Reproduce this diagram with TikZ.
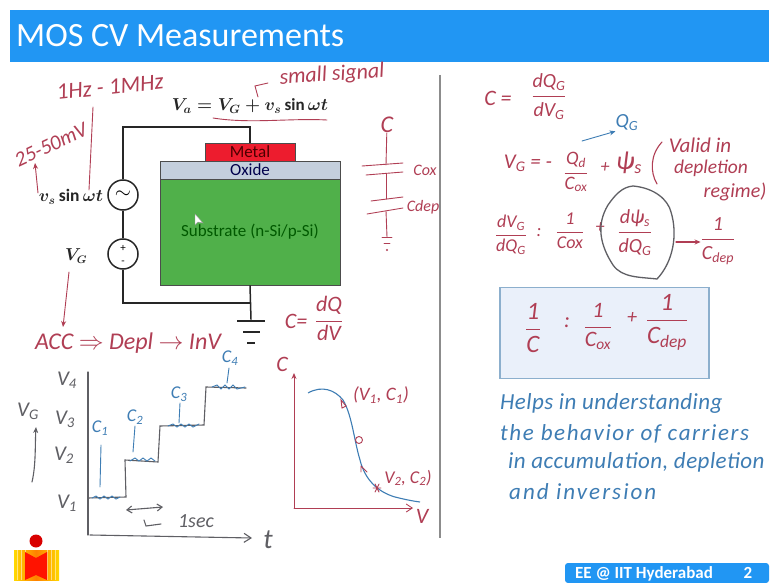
\documentclass[tikz,border=0pt]{standalone}
\usepackage{fontspec}
\usepackage{amsmath}
\setmainfont{Carlito}
\usetikzlibrary{arrows.meta}

\definecolor{barblue}{RGB}{33,150,243}
\definecolor{inkred}{RGB}{176,62,84}
\definecolor{inkblue}{RGB}{62,125,180}
\definecolor{inkgray}{RGB}{95,95,100}
\definecolor{metalred}{RGB}{237,28,46}
\definecolor{oxidegray}{RGB}{196,207,221}
\definecolor{subgreen}{RGB}{80,176,74}
\definecolor{boxfill}{RGB}{234,240,250}
\definecolor{boxedge}{RGB}{140,175,205}

\newcommand{\hfrac}[2]{$\genfrac{}{}{0.8pt}{0}{\hbox{\strut #1}}{\hbox{\strut #2}}$}
\newcommand{\hs}[1]{\textsubscript{#1}}
\newcommand{\pen}[1]{\itshape\fontsize{#1}{#1}\selectfont}

\tikzset{
	wire/.style={draw=black!85,line width=1.5pt},
	layer/.style={draw=black!70,line width=0.8pt,minimum height=18pt,inner sep=0pt,font=\fontsize{17}{17}\selectfont},
	source/.style={circle,draw=black!85,line width=1.5pt,minimum size=30pt,inner sep=0pt},
	redpen/.style={inkred,font=\pen{18},inner sep=0pt},
	bluepen/.style={inkblue,font=\pen{18},inner sep=0pt},
	graypen/.style={inkgray,font=\pen{21},inner sep=0pt},
	redline/.style={inkred,line width=0.9pt,line cap=round},
	blueline/.style={inkblue,line width=0.9pt,line cap=round},
	grayline/.style={inkgray,line width=1.1pt,line cap=round},
	tip/.style={-{Stealth[length=6pt,width=5pt]}}
}

\begin{document}
\begin{tikzpicture}[x=1pt,y=-1pt]
	\useasboundingbox (0,0) rectangle (774,583);
	\fill[white] (0,0) rectangle (774,583);

	% header and footer
	\fill[barblue] (10,10) rectangle (769,62);
	\node[white,anchor=west,inner sep=0pt,font=\fontsize{34}{34}\selectfont] (title) at (16,36) {MOS CV Measurements};
	\fill[barblue,rounded corners=3pt] (565,563) rectangle (769,583);
	\node[white,inner sep=0pt,font=\bfseries\fontsize{17}{17}\selectfont] (footer) at (644,574) {EE @ IIT Hyderabad};
	\node[white,inner sep=0pt,font=\bfseries\fontsize{17}{17}\selectfont] (pagenum) at (748,573) {2};
	\draw[black!45,line width=1.2pt] (440,75)--(440,538);

	% logo
	\shade[left color=yellow!70!orange,right color=orange] (14,550) rectangle (36,580);
	\shade[left color=orange,right color=yellow!70!orange] (36,550) rectangle (59,580);
	\foreach \xpos in {17,21,25,47,51,55}
		\draw[white,line width=0.4pt,opacity=0.5] (\xpos,550)--(\xpos,580);
	\fill[red!85!orange] (25,552)--(36,558)--(47,552)--(47,580)--(36,575)--(25,580)--cycle;
	\fill[red!85!black] (36,541) circle (6.5);

	% MOS stack
	\node[layer,fill=metalred,minimum width=90pt,text=black!70!red] (metal) at (250,152) {Metal};
	\node[layer,fill=oxidegray,minimum width=180pt,text=black!70!blue] (oxide) at (250,170) {Oxide};
	\node[layer,fill=subgreen,minimum width=180pt,minimum height=106pt,text=black!65!green] (substrate) at (250,232) {Substrate (n-Si/p-Si)};
	\fill[white,draw=black!40,line width=0.4pt] (195,214)--(195,225)--(198,222)--(203,223)--cycle;

	% sources and wires
	\node[source] (acsrc) at (123,195) {\fontsize{22}{22}\selectfont$\sim$};
	\node[source] (dcsrc) at (123,254) {};
	\node[inner sep=0pt,font=\fontsize{11}{11}\selectfont] (plus) at (123,248) {+};
	\node[inner sep=0pt,font=\fontsize{11}{11}\selectfont] (minus) at (123,263) {-};
	\coordinate (topjoin) at (250,127);
	\coordinate (botjoin) at (251,303);
	\node[fill=black!85,minimum width=28pt,minimum height=2.5pt,inner sep=0pt] (gnda) at (251,321) {};
	\node[fill=black!85,minimum width=17pt,minimum height=2.5pt,inner sep=0pt] (gndb) at (251,332) {};
	\node[fill=black!85,minimum width=8pt,minimum height=2.5pt,inner sep=0pt] (gndc) at (251,343) {};
	\draw[wire] (acsrc.north) |- (topjoin) -- (metal.north);
	\draw[wire] (acsrc.south) -- (dcsrc.north);
	\draw[wire] (dcsrc.south) |- (botjoin);
	\draw[wire] (substrate.south) -- (gnda.north);

	% printed labels
	\node[inner sep=0pt,black!85,font=\fontsize{17}{17}\selectfont] (vaeq) at (250,106) {$\boldsymbol{V_a = V_G + v_s \sin\omega t}$};
	\node[inner sep=0pt,black!85,font=\fontsize{17.5}{17.5}\selectfont] (vslabel) at (71,197) {$\boldsymbol{v_s \sin\omega t}$};
	\node[inner sep=0pt,black!85,font=\fontsize{16}{16}\selectfont] (vglabel) at (76,256) {$\boldsymbol{V_G}$};

	% red notes, top left
	\node[redpen,rotate=6,font=\pen{23}] (freq) at (110,87) {1Hz - 1MHz};
	\node[redpen,rotate=25,font=\pen{21}] (ampl) at (51,145) {25-50mV};
	\node[redpen,rotate=4,font=\pen{22}] (small) at (332,75) {small signal};
	\coordinate (freqend) at (89,190);
	\coordinate (amplend) at (38,193);
	\draw[redline] (freqend) -- (93,107);
	\draw[redline,tip] (amplend) -- (35,163);
	\draw[redline] (258,97) -- (255,86) -- (268,83);
	\draw[redline] (213,118) .. controls (250,124) and (290,118) .. (327,120);
	\draw[redline,tip] (69,272) -- (63,327);
	\node[redpen,font=\pen{24}] (regimes) at (128,343) {ACC $\Rightarrow$ Depl $\rightarrow$ InV};

	% equivalent capacitors
	\node[redpen,font=\pen{24}] (ctotal) at (387,125) {C};
	\coordinate (platea) at (386,165);
	\coordinate (plateb) at (386,174);
	\coordinate (platec) at (386,199);
	\coordinate (plated) at (386,211);
	\coordinate (capgnd) at (387,237);
	\draw[redline] (ctotal) -- (platea);
	\draw[redline] (plateb) -- (platec);
	\draw[redline] (plated) -- (capgnd);
	\draw[redline] (362,166)--(403,163);
	\draw[redline] (366,175)--(403,172);
	\draw[redline] (371,201)--(403,197);
	\draw[redline] (367,214)--(403,208);
	\draw[redline] (382,237)--(392,237);
	\draw[redline] (384,243)--(390,243);
	\fill[inkred] (387,250) circle (1.2);
	\node[redpen,font=\pen{16}] (cox) at (425,170) {Cox};
	\node[redpen,font=\pen{16}] (cdep) at (423,207) {Cdep};
	\node[redpen,font=\pen{22}] (ceq) at (296,321) {C=};
	\node[redpen,font=\pen{22}] (cfrac) at (329,322) {\hfrac{dQ}{dV}};

	% stepped gate voltage
	\coordinate (torigin) at (88,535);
	\coordinate (ttop) at (88,372);
	\coordinate (tend) at (252,538);
	\draw[grayline] (ttop) -- (torigin);
	\draw[grayline,-{Straight Barb[length=7pt,width=9pt]}] (90,535) -- (tend);
	\node[graypen,font=\pen{28}] (tlabel) at (268,540) {t};
	\draw[grayline] (88,498)--(126,497)--(125,460)--(158,462)--(160,426)--(204,425)--(206,387)--(246,388);
	\draw[blueline] (92,498)--(96,496)--(100,499)--(104,496)--(108,499)--(112,496)--(116,499)--(120,497);
	\draw[blueline] (130,461)--(135,458)--(139,461)--(143,458)--(147,461)--(151,458)--(155,461);
	\draw[blueline] (168,426)--(173,424)--(177,427)--(181,424)--(185,427)--(189,424)--(193,427)--(199,424);
	\draw[blueline] (212,387)--(217,385)--(221,389)--(225,385)--(229,389)--(233,385)--(237,389)--(245,387);
	\node[bluepen,font=\pen{18}] (cone) at (100,428) {C\hs{1}};
	\node[bluepen,font=\pen{18}] (ctwo) at (135,417) {C\hs{2}};
	\node[bluepen,font=\pen{18}] (cthree) at (179,394) {C\hs{3}};
	\node[bluepen,font=\pen{18}] (cfour) at (230,358) {C\hs{4}};
	\coordinate (conefoot) at (100,487);
	\coordinate (ctwofoot) at (133,452);
	\coordinate (cthreefoot) at (179,423);
	\coordinate (cfourfoot) at (227,383);
	\draw[blueline] (cone) ++(1,17) -- (conefoot);
	\draw[blueline] (ctwo) ++(0,9) -- (ctwofoot);
	\draw[blueline] (cthree) ++(1,9) -- (cthreefoot);
	\draw[blueline] (cfour) ++(-1,10) -- (cfourfoot);
	\node[graypen] (vfour) at (67,380) {V\hs{4}};
	\node[graypen] (vthree) at (65,419) {V\hs{3}};
	\node[graypen] (vtwo) at (64,455) {V\hs{2}};
	\node[graypen] (vone) at (67,503) {V\hs{1}};
	\node[graypen] (vgaxis) at (28,411) {V\hs{G}};
	\draw[grayline,tip] (32,482) .. controls (36,465) and (35,445) .. (36,427);
	\draw[grayline,{Straight Barb[length=5pt,width=7pt]}-{Straight Barb[length=5pt,width=7pt]}] (126,510) -- (163,507);
	\draw[grayline] (144,520) -- (146,526) -- (161,524);
	\node[graypen,font=\pen{20}] (onesec) at (196,521) {1sec};

	% CV curve
	\coordinate (cvorigin) at (294,508);
	\coordinate (cvtop) at (294,373);
	\coordinate (cvright) at (413,508);
	\draw[redline,tip] (cvorigin) -- (cvtop);
	\draw[redline,-{Straight Barb[length=6pt,width=8pt]}] (cvorigin) -- (cvright);
	\node[redpen,font=\pen{22}] (caxis) at (282,364) {C};
	\node[redpen,font=\pen{22}] (vaxis) at (422,516) {V};
	\draw[inkblue,line width=1.1pt] (308,393) .. controls (322,385) and (335,390) .. (343,400) .. controls (352,415) and (354,440) .. (360,460) .. controls (365,480) and (378,492) .. (395,497) .. controls (403,499) and (412,501) .. (420,502);
	\draw[redline] (341,400)--(346,406)--(342,408)--cycle;
	\draw[redline] (359,440) circle (3.5);
	\draw[redline] (361,466)--(367,472) (361,466)--(361,472);
	\draw[redline] (373,488)--(381,488) (375,484)--(379,492) (379,484)--(375,492);
	\node[redpen,font=\pen{19}] (ptone) at (381,395) {(V\hs{1}, C\hs{1})};
	\node[redpen,font=\pen{18}] (pttwo) at (408,478) {V\hs{2}, C\hs{2})};

	% derivation on the right
	\node[redpen,font=\pen{22}] (ctop) at (498,98) {C =};
	\node[redpen,font=\pen{20}] (cdef) at (549,98) {\hfrac{dQ\hs{G}}{dV\hs{G}}};
	\node[bluepen,font=\pen{20}] (qg) at (627,123) {Q\hs{G}};
	\coordinate (qgarrow) at (582,141);
	\draw[blueline,tip] (qgarrow) -- (qg.south west);
	\node[redpen,font=\pen{21}] (vgeq) at (528,163) {V\hs{G} = -};
	\node[redpen,font=\pen{19}] (qdfrac) at (576,173) {\hfrac{Q\hs{d}}{C\hs{ox}}};
	\node[redpen] (plusa) at (605,168) {+};
	\node[redpen,font=\pen{26}] (psis) at (629,163) {ψ\hs{s}};
	\draw[redline,line width=1.1pt] (662,142) .. controls (650,155) and (650,172) .. (657,184);
	\node[redpen,font=\pen{21}] (valid) at (700,145) {Valid in};
	\node[redpen,font=\pen{19.5}] (depl) at (711,168) {depletion};
	\node[redpen,font=\pen{20}] (regime) at (735,192) {regime)};

	\node[redpen] (dvdq) at (511,236) {\hfrac{dV\hs{G}}{dQ\hs{G}}};
	\node[redpen] (eqa) at (539,233) {:};
	\node[redpen] (oneox) at (570,233) {\hfrac{1}{Cox}};
	\node[redpen] (plusb) at (600,228) {+};
	\node[redpen,font=\pen{20}] (dpsi) at (635,234) {\hfrac{dψ\hs{s}}{dQ\hs{G}}};
	\node[redpen,font=\pen{20}] (onedep) at (718,241) {\hfrac{1}{C\hs{dep}}};
	\draw[grayline,line width=1.3pt] (633,186) .. controls (655,188) and (668,200) .. (671,212) .. controls (678,235) and (673,262) .. (657,279) .. controls (640,277) and (622,278) .. (613,265) .. controls (600,245) and (596,225) .. (608,205) .. controls (615,195) and (622,187) .. (633,186) -- cycle;
	\coordinate (blobout) at (676,242);
	\draw[redline,line width=1.2pt,tip] (blobout) -- (blobout -| onedep.west);

	% boxed result
	\node[draw=boxedge,fill=boxfill,line width=1.3pt,minimum width=209pt,minimum height=91pt,inner sep=0pt] (resultbox) at (604.5,333) {};
	\node[redpen,font=\pen{25}] (invc) at (533,331) {\hfrac{1}{C}};
	\node[redpen,font=\pen{22}] (eqb) at (567,323) {:};
	\node[redpen,font=\pen{22}] (invox) at (598,328) {\hfrac{1}{C\hs{ox}}};
	\node[redpen,font=\pen{20}] (plusc) at (632,318) {+};
	\node[redpen,font=\pen{25}] (invdep) at (667,322) {\hfrac{1}{C\hs{dep}}};

	% blue note
	\node[bluepen,anchor=west,font=\pen{23}] (notea) at (500,403) {\addfontfeature{LetterSpace=2}Helps in understanding};
	\node[bluepen,anchor=west,font=\pen{23}] (noteb) at (500,434) {\addfontfeature{LetterSpace=7}the behavior of carriers};
	\node[bluepen,anchor=west,font=\pen{23}] (notec) at (508,462) {\addfontfeature{LetterSpace=2}in accumulation, depletion};
	\node[bluepen,anchor=west,font=\pen{23}] (noted) at (509,492) {\addfontfeature{LetterSpace=9}and inversion};
\end{tikzpicture}
\end{document}
